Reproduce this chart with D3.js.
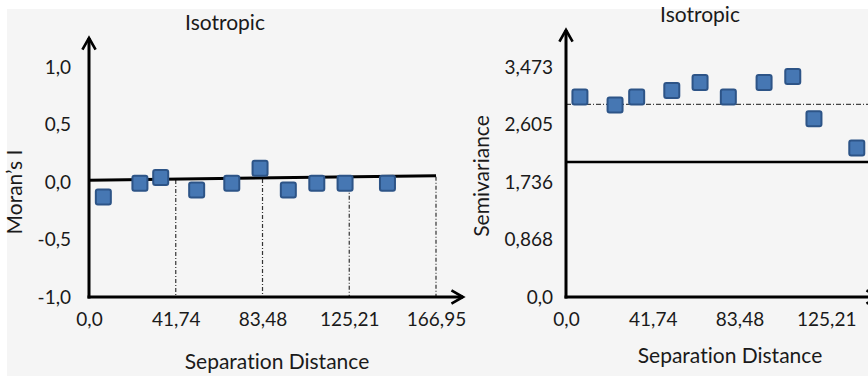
<!DOCTYPE html>
<html>
<head>
<meta charset="utf-8">
<script src="https://cdn.jsdelivr.net/npm/d3@7"></script>
<style>
  html, body { margin: 0; padding: 0; background: #ffffff; }
  svg { display: block; }
  text { font-family: Lato, "Open Sans", sans-serif; fill: #1a1a1a; font-variant-ligatures: none; }
</style>
</head>
<body>
<svg id="chart" width="868" height="376"></svg>
<script>
// Correlogram (Moran's I) and semivariogram for isotropic separation distances
const distTicks = [0, 41.74, 83.48, 125.21, 166.95];
const distTickLabels = ["0,0", "41,74", "83,48", "125,21", "166,95"];

const moranTicks = [-1, -0.5, 0, 0.5, 1];
const moranTickLabels = ["-1,0", "-0,5", "0,0", "0,5", "1,0"];
const moranLags = [6.9, 24.5, 34.5, 51.8, 68.7, 82.3, 95.9, 109.6, 123.2, 143.6];
const moranValues = [-0.13, -0.01, 0.04, -0.07, -0.01, 0.12, -0.07, -0.01, -0.01, -0.01];
const moranTrendEnds = [0.015, 0.055];       // fitted line at distance 0 and 166.95

const semiTicks = [0, 0.868, 1.736, 2.605, 3.473];
const semiTickLabels = ["0,0", "0,868", "1,736", "2,605", "3,473"];
const semiLags = [6.7, 23.6, 34.0, 50.9, 64.5, 78.1, 95.3, 109.1, 119.3, 139.9];
const semiValues = [3.02, 2.90, 3.02, 3.12, 3.24, 3.02, 3.24, 3.33, 2.69, 2.25];
const semiSill = 2.91;        // sample variance (dash-dot)
const semiReference = 2.04;   // reference level (solid)

const svg = d3.select("#chart");

// page background with the lighter margin strip
svg.append("rect").attr("x", 0).attr("y", 0).attr("width", 868).attr("height", 376).attr("fill", "#ffffff");
svg.append("rect").attr("x", 7).attr("y", 9).attr("width", 861).attr("height", 367).attr("fill", "#f5f5f5");

const defs = svg.append("defs");
defs.append("marker")
  .attr("id", "arrow")
  .attr("viewBox", "0 0 10 10")
  .attr("refX", 8).attr("refY", 5)
  .attr("markerWidth", 5.5).attr("markerHeight", 5.5)
  .attr("markerUnits", "strokeWidth")
  .attr("orient", "auto")
  .append("path")
  .attr("d", "M1,1 L8,5 L1,9")
  .attr("fill", "none")
  .attr("stroke", "#000")
  .attr("stroke-width", 1.6)
  .attr("stroke-linejoin", "miter");

const markerSize = 15;
const markerFill = "#4677b3";
const markerStroke = "#2d5487";
const tickFont = 19;
const labelFont = 21;

function drawPanel(opts) {
  const g = svg.append("g");
  const x = d3.scaleLinear().domain([0, 166.95]).range([opts.x0, opts.x0 + 347]);
  const y = d3.scaleLinear().domain(opts.yDomain).range([297, 67]);

  // y tick labels
  const yAxis = d3.axisLeft(y)
    .tickValues(opts.yTicks)
    .tickSize(0)
    .tickPadding(opts.yPad)
    .tickFormat((d, i) => opts.yTickLabels[i]);
  const ya = g.append("g").attr("transform", `translate(${opts.x0},0)`).call(yAxis);
  ya.select(".domain").remove();
  ya.selectAll("text").attr("font-size", tickFont).attr("font-family", "Lato, 'Open Sans', sans-serif").attr("fill", "#1a1a1a");

  // x tick labels
  const xAxis = d3.axisBottom(x)
    .tickValues(distTicks.filter(d => x(d) < 868))
    .tickSize(0)
    .tickPadding(16)
    .tickFormat(d => distTickLabels[distTicks.indexOf(d)]);
  const xa = g.append("g").attr("transform", "translate(0,297)").call(xAxis);
  xa.select(".domain").remove();
  xa.selectAll("text").attr("font-size", tickFont).attr("font-family", "Lato, 'Open Sans', sans-serif").attr("fill", "#1a1a1a");

  opts.extras(g, x, y);

  // axes with arrow heads
  g.append("line")
    .attr("x1", opts.x0).attr("x2", opts.x0)
    .attr("y1", 298.5).attr("y2", opts.yTop)
    .attr("stroke", "#000").attr("stroke-width", 3)
    .attr("marker-end", "url(#arrow)");
  g.append("line")
    .attr("x1", opts.x0 - 1.5).attr("x2", opts.xEnd)
    .attr("y1", 297).attr("y2", 297)
    .attr("stroke", "#000").attr("stroke-width", 3)
    .attr("marker-end", "url(#arrow)");

  // data markers
  g.selectAll("rect.pt")
    .data(opts.lags.map((d, i) => [d, opts.values[i]]))
    .join("rect")
    .attr("class", "pt")
    .attr("x", d => x(d[0]) - markerSize / 2)
    .attr("y", d => y(d[1]) - markerSize / 2)
    .attr("width", markerSize).attr("height", markerSize)
    .attr("rx", 2)
    .attr("fill", markerFill)
    .attr("stroke", markerStroke)
    .attr("stroke-width", 2);

  // titles
  g.append("text")
    .attr("x", opts.titleX).attr("y", opts.titleY)
    .attr("text-anchor", "middle").attr("dominant-baseline", "middle")
    .attr("font-size", labelFont)
    .text("Isotropic");
  g.append("text")
    .attr("x", opts.xLabelX).attr("y", opts.xLabelY)
    .attr("text-anchor", "middle").attr("dominant-baseline", "middle")
    .attr("font-size", labelFont)
    .text("Separation Distance");
  g.append("text")
    .attr("transform", `translate(${opts.yLabelX},${opts.yLabelY}) rotate(-90)`)
    .attr("text-anchor", "middle").attr("dominant-baseline", "middle")
    .attr("font-size", labelFont)
    .text(opts.yLabel);
}

// Moran's I correlogram
drawPanel({
  x0: 89, xEnd: 463, yTop: 38,
  yDomain: [-1, 1], yTicks: moranTicks, yTickLabels: moranTickLabels, yPad: 18,
  lags: moranLags, values: moranValues,
  titleX: 225, titleY: 25,
  xLabelX: 277, xLabelY: 364,
  yLabelX: 17, yLabelY: 192, yLabel: "Moran’s I",
  extras: (g, x, y) => {
    const trend = d3.scaleLinear().domain([0, 166.95]).range(moranTrendEnds);
    // drop lines from the fitted line to each distance class bound
    g.selectAll("line.drop")
      .data(distTicks.slice(1))
      .join("line")
      .attr("class", "drop")
      .attr("x1", d => x(d)).attr("x2", d => x(d))
      .attr("y1", d => y(trend(d)) + 1).attr("y2", 296)
      .attr("stroke", "#333").attr("stroke-width", 1.2)
      .attr("stroke-dasharray", "4,2,1,2");
    g.append("line")
      .attr("x1", x(0)).attr("x2", x(166.95))
      .attr("y1", y(moranTrendEnds[0])).attr("y2", y(moranTrendEnds[1]))
      .attr("stroke", "#000").attr("stroke-width", 3);
  }
});

// Semivariogram
drawPanel({
  x0: 566, xEnd: 878, yTop: 30,
  yDomain: [0, 3.473], yTicks: semiTicks, yTickLabels: semiTickLabels, yPad: 13,
  lags: semiLags, values: semiValues,
  titleX: 700, titleY: 17,
  xLabelX: 730, xLabelY: 358,
  yLabelX: 484, yLabelY: 176, yLabel: "Semivariance",
  extras: (g, x, y) => {
    g.append("line")
      .attr("x1", x(0)).attr("x2", 868)
      .attr("y1", y(semiSill)).attr("y2", y(semiSill))
      .attr("stroke", "#444").attr("stroke-width", 1.2)
      .attr("stroke-dasharray", "5,2,1,2");
    g.append("line")
      .attr("x1", x(0)).attr("x2", 868)
      .attr("y1", y(semiReference)).attr("y2", y(semiReference))
      .attr("stroke", "#000").attr("stroke-width", 2.5);
  }
});
</script>
</body>
</html>
